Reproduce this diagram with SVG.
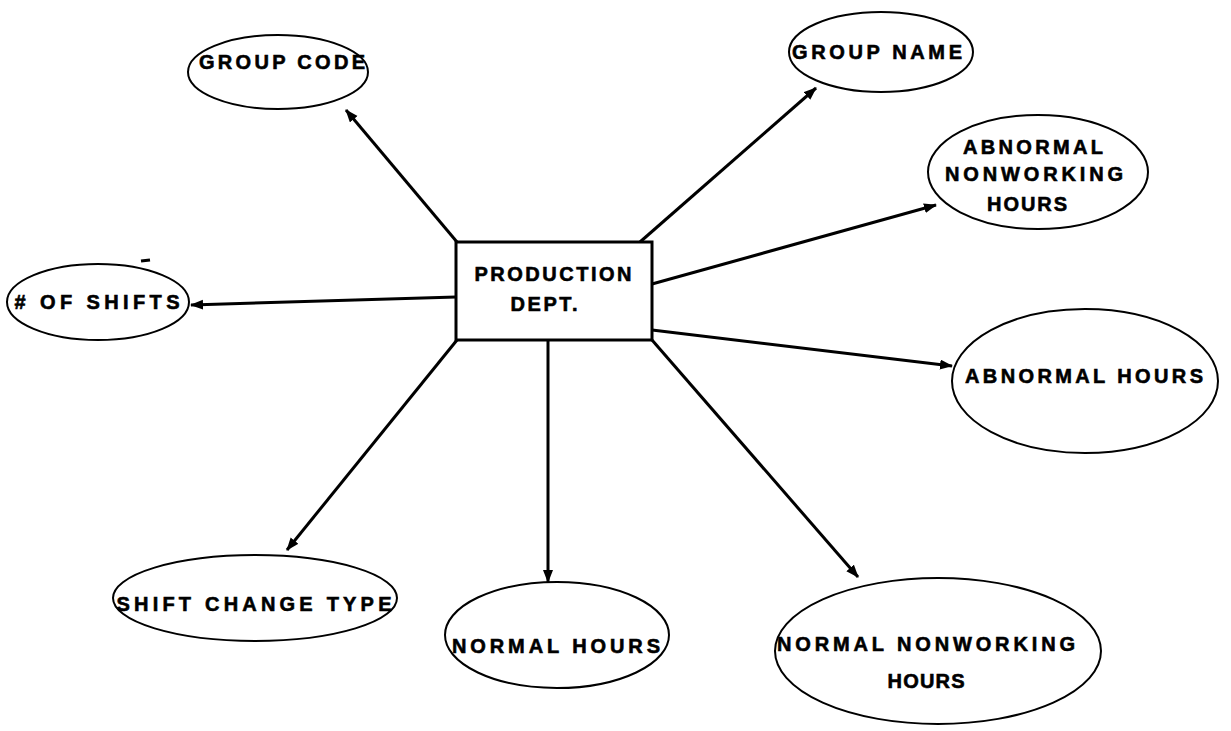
<svg xmlns="http://www.w3.org/2000/svg" width="1231" height="731" viewBox="0 0 1231 731">
  <defs>
    <marker id="arrow" markerUnits="userSpaceOnUse" markerWidth="14" markerHeight="12" refX="12" refY="5" orient="auto">
      <path d="M0,0 L13,5 L0,10 Z" fill="#000"/>
    </marker>
    <style>
      .attr { fill: #fff; stroke: #000; stroke-width: 2; }
      .entity { fill: #fff; stroke: #000; stroke-width: 3; }
      .lbl { font-family: "Liberation Sans", Arial, sans-serif; font-weight: bold; font-size: 20px; fill: #000; stroke: #000; stroke-width: 0.6; text-anchor: middle; }
      .link { stroke: #000; stroke-width: 3; fill: none; marker-end: url(#arrow); }
    </style>
  </defs>
  <rect width="1231" height="731" fill="#fff"/>

  <!-- connectors from the department entity to its attributes -->
  <g id="connectors">
    <line class="link" x1="457" y1="242" x2="346" y2="110"/>
    <line class="link" x1="640" y1="242" x2="816" y2="88"/>
    <line class="link" x1="652" y1="284" x2="936" y2="205"/>
    <line class="link" x1="456" y1="297" x2="191" y2="305"/>
    <line class="link" x1="652" y1="330" x2="952" y2="366"/>
    <line class="link" x1="457" y1="340" x2="287" y2="550"/>
    <line class="link" x1="548" y1="340" x2="548" y2="582"/>
    <line class="link" x1="652" y1="340" x2="858" y2="577"/>
  </g>

  <g id="production-dept">
    <rect class="entity" x="456" y="242" width="196" height="98"/>
    <text class="lbl" x="553" y="281" textLength="157" lengthAdjust="spacing">PRODUCTION</text>
    <text class="lbl" x="544" y="311" textLength="67" lengthAdjust="spacing">DEPT.</text>
  </g>

  <g id="group-code">
    <ellipse class="attr" cx="278" cy="72" rx="90" ry="37"/>
    <text class="lbl" x="282" y="69" textLength="166" lengthAdjust="spacing">GROUP CODE</text>
  </g>

  <g id="group-name">
    <ellipse class="attr" cx="881" cy="52" rx="92" ry="40"/>
    <text class="lbl" x="877" y="59" textLength="170" lengthAdjust="spacing">GROUP NAME</text>
  </g>

  <g id="abnormal-nonworking-hours">
    <ellipse class="attr" cx="1038" cy="172" rx="110" ry="57"/>
    <text class="lbl" x="1033" y="154" textLength="140" lengthAdjust="spacing">ABNORMAL</text>
    <text class="lbl" x="1034" y="181" textLength="178" lengthAdjust="spacing">NONWORKING</text>
    <text class="lbl" x="1027" y="211" textLength="80" lengthAdjust="spacing">HOURS</text>
  </g>

  <g id="num-shifts">
    <ellipse class="attr" cx="98" cy="302" rx="91" ry="38"/>
    <text class="lbl" x="97" y="309" textLength="165" lengthAdjust="spacing"># OF SHIFTS</text>
    <line x1="141" y1="261" x2="150" y2="260" stroke="#000" stroke-width="3"/>
  </g>

  <g id="abnormal-hours">
    <ellipse class="attr" cx="1085" cy="381" rx="133" ry="72"/>
    <text class="lbl" x="1084" y="383" textLength="238" lengthAdjust="spacing">ABNORMAL HOURS</text>
  </g>

  <g id="shift-change-type">
    <ellipse class="attr" cx="255" cy="598" rx="142" ry="43"/>
    <text class="lbl" x="254" y="611" textLength="275" lengthAdjust="spacing">SHIFT CHANGE TYPE</text>
  </g>

  <g id="normal-hours">
    <ellipse class="attr" cx="557" cy="635" rx="112" ry="53"/>
    <text class="lbl" x="556" y="653" textLength="208" lengthAdjust="spacing">NORMAL HOURS</text>
  </g>

  <g id="normal-nonworking-hours">
    <ellipse class="attr" cx="938" cy="651" rx="163" ry="73"/>
    <text class="lbl" x="926" y="651" textLength="298" lengthAdjust="spacing">NORMAL NONWORKING</text>
    <text class="lbl" x="926" y="688" textLength="77" lengthAdjust="spacing">HOURS</text>
  </g>
</svg>
